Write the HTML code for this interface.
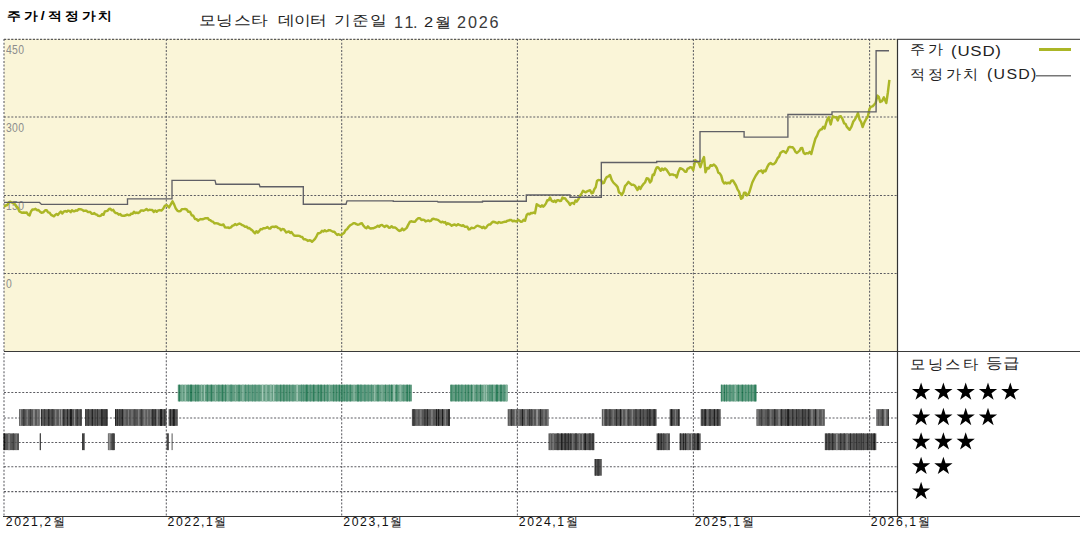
<!DOCTYPE html>
<html><head><meta charset="utf-8">
<style>
html,body{margin:0;padding:0;background:#fff;width:1080px;height:540px;overflow:hidden;position:relative;font-family:"Liberation Sans",sans-serif;color:#111}
.t{position:absolute;white-space:nowrap;line-height:1}
svg{position:absolute;left:0;top:0}
.g{stroke:#5c5c62;stroke-width:1.05;stroke-dasharray:2 1.65;fill:none}
.stars{position:absolute;left:910px;font-size:21px;line-height:22px;letter-spacing:1px;color:#000;white-space:nowrap}
</style></head><body>
<svg width="1080" height="540" viewBox="0 0 1080 540">
<rect x="4" y="39" width="893" height="312" fill="#faf5d8"/>
<line x1="166.3" y1="39" x2="166.3" y2="516" class="g"/>
<line x1="341.7" y1="39" x2="341.7" y2="516" class="g"/>
<line x1="517.4" y1="39" x2="517.4" y2="516" class="g"/>
<line x1="693.4" y1="39" x2="693.4" y2="516" class="g"/>
<line x1="869.6" y1="39" x2="869.6" y2="516" class="g"/>
<line x1="4" y1="117" x2="897" y2="117" class="g"/>
<line x1="4" y1="195.4" x2="897" y2="195.4" class="g"/>
<line x1="4" y1="273.5" x2="897" y2="273.5" class="g"/>
<line x1="4" y1="392.4" x2="897" y2="392.4" class="g"/>
<line x1="4" y1="417.9" x2="897" y2="417.9" class="g"/>
<line x1="4" y1="442.4" x2="897" y2="442.4" class="g"/>
<line x1="4" y1="466.8" x2="897" y2="466.8" class="g"/>
<line x1="4" y1="491.6" x2="897" y2="491.6" class="g"/>
<line x1="4" y1="39" x2="4" y2="516" class="g"/>
<g opacity="0.88">
<rect x="19.00" y="409.15" width="20.80" height="16.7" fill="#404040"/>
<rect x="19.68" y="409.15" width="1.50" height="16.7" fill="#858585"/>
<rect x="23.06" y="409.15" width="1.50" height="16.7" fill="#222"/>
<rect x="26.50" y="409.15" width="1.50" height="16.7" fill="#6a6a6a"/>
<rect x="29.88" y="409.15" width="1.00" height="16.7" fill="#222"/>
<rect x="33.20" y="409.15" width="1.50" height="16.7" fill="#858585"/>
<rect x="37.07" y="409.15" width="1.50" height="16.7" fill="#6a6a6a"/>
<rect x="40.80" y="409.15" width="41.20" height="16.7" fill="#404040"/>
<rect x="40.89" y="409.15" width="0.80" height="16.7" fill="#000"/>
<rect x="43.93" y="409.15" width="1.20" height="16.7" fill="#222"/>
<rect x="47.96" y="409.15" width="1.50" height="16.7" fill="#111"/>
<rect x="51.46" y="409.15" width="2.00" height="16.7" fill="#222"/>
<rect x="54.92" y="409.15" width="1.50" height="16.7" fill="#6a6a6a"/>
<rect x="58.92" y="409.15" width="1.00" height="16.7" fill="#858585"/>
<rect x="60.79" y="409.15" width="1.50" height="16.7" fill="#858585"/>
<rect x="63.35" y="409.15" width="1.00" height="16.7" fill="#000"/>
<rect x="67.19" y="409.15" width="0.80" height="16.7" fill="#000"/>
<rect x="69.91" y="409.15" width="2.00" height="16.7" fill="#000"/>
<rect x="74.07" y="409.15" width="1.00" height="16.7" fill="#858585"/>
<rect x="76.68" y="409.15" width="1.00" height="16.7" fill="#111"/>
<rect x="80.30" y="409.15" width="0.80" height="16.7" fill="#222"/>
<rect x="85.00" y="409.15" width="22.90" height="16.7" fill="#404040"/>
<rect x="85.09" y="409.15" width="1.20" height="16.7" fill="#222"/>
<rect x="87.54" y="409.15" width="1.50" height="16.7" fill="#222"/>
<rect x="91.69" y="409.15" width="1.20" height="16.7" fill="#000"/>
<rect x="94.64" y="409.15" width="1.00" height="16.7" fill="#222"/>
<rect x="97.17" y="409.15" width="0.80" height="16.7" fill="#111"/>
<rect x="101.16" y="409.15" width="1.50" height="16.7" fill="#000"/>
<rect x="103.56" y="409.15" width="1.00" height="16.7" fill="#111"/>
<rect x="105.38" y="409.15" width="1.50" height="16.7" fill="#111"/>
<rect x="115.00" y="409.15" width="51.60" height="16.7" fill="#404040"/>
<rect x="115.11" y="409.15" width="1.00" height="16.7" fill="#000"/>
<rect x="116.95" y="409.15" width="1.00" height="16.7" fill="#111"/>
<rect x="119.05" y="409.15" width="1.50" height="16.7" fill="#222"/>
<rect x="121.68" y="409.15" width="1.20" height="16.7" fill="#000"/>
<rect x="124.43" y="409.15" width="1.00" height="16.7" fill="#6a6a6a"/>
<rect x="127.97" y="409.15" width="1.00" height="16.7" fill="#6a6a6a"/>
<rect x="131.42" y="409.15" width="1.20" height="16.7" fill="#6a6a6a"/>
<rect x="134.43" y="409.15" width="0.80" height="16.7" fill="#222"/>
<rect x="138.34" y="409.15" width="1.00" height="16.7" fill="#858585"/>
<rect x="140.75" y="409.15" width="1.50" height="16.7" fill="#222"/>
<rect x="143.48" y="409.15" width="2.00" height="16.7" fill="#6a6a6a"/>
<rect x="146.82" y="409.15" width="1.50" height="16.7" fill="#6a6a6a"/>
<rect x="149.80" y="409.15" width="1.00" height="16.7" fill="#6a6a6a"/>
<rect x="152.24" y="409.15" width="1.20" height="16.7" fill="#000"/>
<rect x="154.66" y="409.15" width="1.00" height="16.7" fill="#000"/>
<rect x="156.69" y="409.15" width="1.00" height="16.7" fill="#858585"/>
<rect x="160.06" y="409.15" width="2.00" height="16.7" fill="#000"/>
<rect x="164.28" y="409.15" width="0.80" height="16.7" fill="#111"/>
<rect x="168.60" y="409.15" width="9.20" height="16.7" fill="#404040"/>
<rect x="170.04" y="409.15" width="0.80" height="16.7" fill="#000"/>
<rect x="172.80" y="409.15" width="2.00" height="16.7" fill="#000"/>
<rect x="3.50" y="433.40" width="15.50" height="16.7" fill="#404040"/>
<rect x="3.61" y="433.40" width="1.50" height="16.7" fill="#000"/>
<rect x="8.07" y="433.40" width="2.00" height="16.7" fill="#6a6a6a"/>
<rect x="12.78" y="433.40" width="1.00" height="16.7" fill="#222"/>
<rect x="15.71" y="433.40" width="0.80" height="16.7" fill="#858585"/>
<rect x="39.80" y="433.40" width="1.00" height="16.7" fill="#404040"/>
<rect x="39.85" y="433.40" width="0.95" height="16.7" fill="#222"/>
<rect x="82.00" y="433.40" width="3.00" height="16.7" fill="#404040"/>
<rect x="82.57" y="433.40" width="0.80" height="16.7" fill="#000"/>
<rect x="84.39" y="433.40" width="0.61" height="16.7" fill="#858585"/>
<rect x="107.90" y="433.40" width="7.10" height="16.7" fill="#404040"/>
<rect x="108.48" y="433.40" width="2.00" height="16.7" fill="#858585"/>
<rect x="112.34" y="433.40" width="1.50" height="16.7" fill="#222"/>
<rect x="166.60" y="433.40" width="2.00" height="16.7" fill="#404040"/>
<rect x="167.50" y="433.40" width="1.10" height="16.7" fill="#222"/>
<rect x="171.60" y="433.40" width="1.00" height="16.7" fill="#404040"/>
<rect x="177.80" y="384.70" width="234.10" height="16.7" fill="#4f9072"/>
<rect x="178.79" y="384.70" width="1.20" height="16.7" fill="#0f6c44"/>
<rect x="181.67" y="384.70" width="1.00" height="16.7" fill="#7aae96"/>
<rect x="184.72" y="384.70" width="1.00" height="16.7" fill="#99c2ae"/>
<rect x="187.71" y="384.70" width="1.00" height="16.7" fill="#2f8060"/>
<rect x="190.11" y="384.70" width="2.00" height="16.7" fill="#0f6c44"/>
<rect x="195.03" y="384.70" width="1.20" height="16.7" fill="#1f7650"/>
<rect x="197.53" y="384.70" width="1.00" height="16.7" fill="#0f6c44"/>
<rect x="201.04" y="384.70" width="1.00" height="16.7" fill="#7aae96"/>
<rect x="203.92" y="384.70" width="1.00" height="16.7" fill="#99c2ae"/>
<rect x="206.64" y="384.70" width="1.50" height="16.7" fill="#1f7650"/>
<rect x="210.66" y="384.70" width="1.50" height="16.7" fill="#0f6c44"/>
<rect x="214.95" y="384.70" width="1.00" height="16.7" fill="#7aae96"/>
<rect x="218.37" y="384.70" width="1.00" height="16.7" fill="#1f7650"/>
<rect x="221.73" y="384.70" width="1.50" height="16.7" fill="#0f6c44"/>
<rect x="225.00" y="384.70" width="1.00" height="16.7" fill="#1f7650"/>
<rect x="227.37" y="384.70" width="1.00" height="16.7" fill="#7aae96"/>
<rect x="230.25" y="384.70" width="2.00" height="16.7" fill="#2f8060"/>
<rect x="234.98" y="384.70" width="0.80" height="16.7" fill="#7aae96"/>
<rect x="238.56" y="384.70" width="1.00" height="16.7" fill="#0f6c44"/>
<rect x="242.17" y="384.70" width="1.50" height="16.7" fill="#7aae96"/>
<rect x="245.02" y="384.70" width="1.00" height="16.7" fill="#2f8060"/>
<rect x="248.02" y="384.70" width="1.00" height="16.7" fill="#2f8060"/>
<rect x="251.99" y="384.70" width="0.80" height="16.7" fill="#2f8060"/>
<rect x="254.52" y="384.70" width="1.20" height="16.7" fill="#2f8060"/>
<rect x="258.65" y="384.70" width="0.80" height="16.7" fill="#2f8060"/>
<rect x="261.82" y="384.70" width="1.50" height="16.7" fill="#99c2ae"/>
<rect x="265.23" y="384.70" width="2.00" height="16.7" fill="#7aae96"/>
<rect x="269.76" y="384.70" width="2.00" height="16.7" fill="#7aae96"/>
<rect x="273.08" y="384.70" width="1.20" height="16.7" fill="#99c2ae"/>
<rect x="276.37" y="384.70" width="1.00" height="16.7" fill="#2f8060"/>
<rect x="280.22" y="384.70" width="1.00" height="16.7" fill="#0f6c44"/>
<rect x="283.08" y="384.70" width="1.50" height="16.7" fill="#1f7650"/>
<rect x="286.55" y="384.70" width="0.80" height="16.7" fill="#0f6c44"/>
<rect x="289.18" y="384.70" width="0.80" height="16.7" fill="#1f7650"/>
<rect x="292.42" y="384.70" width="1.00" height="16.7" fill="#2f8060"/>
<rect x="296.39" y="384.70" width="1.50" height="16.7" fill="#99c2ae"/>
<rect x="300.96" y="384.70" width="1.20" height="16.7" fill="#2f8060"/>
<rect x="303.16" y="384.70" width="1.00" height="16.7" fill="#2f8060"/>
<rect x="305.66" y="384.70" width="2.00" height="16.7" fill="#0f6c44"/>
<rect x="309.71" y="384.70" width="1.50" height="16.7" fill="#2f8060"/>
<rect x="312.93" y="384.70" width="1.50" height="16.7" fill="#0f6c44"/>
<rect x="317.55" y="384.70" width="1.50" height="16.7" fill="#1f7650"/>
<rect x="320.33" y="384.70" width="1.50" height="16.7" fill="#0f6c44"/>
<rect x="324.09" y="384.70" width="0.80" height="16.7" fill="#0f6c44"/>
<rect x="326.93" y="384.70" width="1.20" height="16.7" fill="#2f8060"/>
<rect x="329.22" y="384.70" width="0.80" height="16.7" fill="#7aae96"/>
<rect x="333.05" y="384.70" width="1.20" height="16.7" fill="#1f7650"/>
<rect x="335.70" y="384.70" width="1.20" height="16.7" fill="#1f7650"/>
<rect x="338.74" y="384.70" width="1.20" height="16.7" fill="#0f6c44"/>
<rect x="341.20" y="384.70" width="1.50" height="16.7" fill="#1f7650"/>
<rect x="343.81" y="384.70" width="0.80" height="16.7" fill="#0f6c44"/>
<rect x="345.96" y="384.70" width="2.00" height="16.7" fill="#2f8060"/>
<rect x="349.61" y="384.70" width="1.50" height="16.7" fill="#1f7650"/>
<rect x="353.66" y="384.70" width="0.80" height="16.7" fill="#99c2ae"/>
<rect x="356.98" y="384.70" width="2.00" height="16.7" fill="#1f7650"/>
<rect x="359.84" y="384.70" width="2.00" height="16.7" fill="#2f8060"/>
<rect x="364.12" y="384.70" width="1.50" height="16.7" fill="#2f8060"/>
<rect x="367.70" y="384.70" width="1.00" height="16.7" fill="#2f8060"/>
<rect x="370.97" y="384.70" width="1.00" height="16.7" fill="#2f8060"/>
<rect x="374.27" y="384.70" width="1.00" height="16.7" fill="#99c2ae"/>
<rect x="377.52" y="384.70" width="1.00" height="16.7" fill="#0f6c44"/>
<rect x="381.45" y="384.70" width="1.00" height="16.7" fill="#7aae96"/>
<rect x="385.00" y="384.70" width="1.00" height="16.7" fill="#1f7650"/>
<rect x="388.79" y="384.70" width="1.20" height="16.7" fill="#2f8060"/>
<rect x="391.10" y="384.70" width="1.20" height="16.7" fill="#0f6c44"/>
<rect x="393.33" y="384.70" width="1.50" height="16.7" fill="#99c2ae"/>
<rect x="395.90" y="384.70" width="1.50" height="16.7" fill="#1f7650"/>
<rect x="399.41" y="384.70" width="2.00" height="16.7" fill="#7aae96"/>
<rect x="403.37" y="384.70" width="0.80" height="16.7" fill="#2f8060"/>
<rect x="406.44" y="384.70" width="1.50" height="16.7" fill="#0f6c44"/>
<rect x="409.18" y="384.70" width="1.00" height="16.7" fill="#0f6c44"/>
<rect x="450.00" y="384.70" width="57.70" height="16.7" fill="#4f9072"/>
<rect x="451.39" y="384.70" width="0.80" height="16.7" fill="#0f6c44"/>
<rect x="455.27" y="384.70" width="1.20" height="16.7" fill="#0f6c44"/>
<rect x="458.06" y="384.70" width="1.20" height="16.7" fill="#1f7650"/>
<rect x="461.09" y="384.70" width="1.50" height="16.7" fill="#2f8060"/>
<rect x="465.07" y="384.70" width="1.00" height="16.7" fill="#1f7650"/>
<rect x="467.74" y="384.70" width="1.00" height="16.7" fill="#0f6c44"/>
<rect x="470.99" y="384.70" width="0.80" height="16.7" fill="#0f6c44"/>
<rect x="473.36" y="384.70" width="0.80" height="16.7" fill="#99c2ae"/>
<rect x="476.33" y="384.70" width="1.00" height="16.7" fill="#1f7650"/>
<rect x="480.06" y="384.70" width="1.00" height="16.7" fill="#0f6c44"/>
<rect x="483.65" y="384.70" width="1.00" height="16.7" fill="#99c2ae"/>
<rect x="485.77" y="384.70" width="1.00" height="16.7" fill="#99c2ae"/>
<rect x="489.41" y="384.70" width="1.00" height="16.7" fill="#2f8060"/>
<rect x="491.65" y="384.70" width="1.00" height="16.7" fill="#0f6c44"/>
<rect x="493.48" y="384.70" width="1.00" height="16.7" fill="#7aae96"/>
<rect x="495.84" y="384.70" width="2.00" height="16.7" fill="#0f6c44"/>
<rect x="500.22" y="384.70" width="1.50" height="16.7" fill="#0f6c44"/>
<rect x="503.46" y="384.70" width="1.20" height="16.7" fill="#2f8060"/>
<rect x="505.74" y="384.70" width="1.20" height="16.7" fill="#7aae96"/>
<rect x="720.80" y="384.70" width="35.60" height="16.7" fill="#4f9072"/>
<rect x="720.96" y="384.70" width="1.00" height="16.7" fill="#1f7650"/>
<rect x="723.97" y="384.70" width="1.00" height="16.7" fill="#0f6c44"/>
<rect x="726.01" y="384.70" width="1.00" height="16.7" fill="#1f7650"/>
<rect x="729.13" y="384.70" width="1.50" height="16.7" fill="#2f8060"/>
<rect x="732.79" y="384.70" width="0.80" height="16.7" fill="#2f8060"/>
<rect x="734.58" y="384.70" width="1.50" height="16.7" fill="#7aae96"/>
<rect x="737.80" y="384.70" width="1.00" height="16.7" fill="#0f6c44"/>
<rect x="741.66" y="384.70" width="1.50" height="16.7" fill="#0f6c44"/>
<rect x="744.99" y="384.70" width="1.20" height="16.7" fill="#2f8060"/>
<rect x="747.94" y="384.70" width="1.00" height="16.7" fill="#1f7650"/>
<rect x="750.90" y="384.70" width="1.00" height="16.7" fill="#1f7650"/>
<rect x="754.30" y="384.70" width="2.00" height="16.7" fill="#0f6c44"/>
<rect x="411.90" y="409.15" width="38.10" height="16.7" fill="#404040"/>
<rect x="412.78" y="409.15" width="2.00" height="16.7" fill="#222"/>
<rect x="416.51" y="409.15" width="1.00" height="16.7" fill="#6a6a6a"/>
<rect x="419.71" y="409.15" width="2.00" height="16.7" fill="#6a6a6a"/>
<rect x="424.43" y="409.15" width="1.00" height="16.7" fill="#111"/>
<rect x="426.83" y="409.15" width="1.00" height="16.7" fill="#000"/>
<rect x="430.88" y="409.15" width="2.00" height="16.7" fill="#6a6a6a"/>
<rect x="436.03" y="409.15" width="1.00" height="16.7" fill="#000"/>
<rect x="437.95" y="409.15" width="1.20" height="16.7" fill="#000"/>
<rect x="442.01" y="409.15" width="1.00" height="16.7" fill="#000"/>
<rect x="444.69" y="409.15" width="1.00" height="16.7" fill="#858585"/>
<rect x="447.93" y="409.15" width="2.00" height="16.7" fill="#111"/>
<rect x="507.70" y="409.15" width="40.80" height="16.7" fill="#404040"/>
<rect x="508.82" y="409.15" width="1.00" height="16.7" fill="#6a6a6a"/>
<rect x="511.19" y="409.15" width="0.80" height="16.7" fill="#111"/>
<rect x="514.67" y="409.15" width="1.50" height="16.7" fill="#858585"/>
<rect x="517.62" y="409.15" width="2.00" height="16.7" fill="#6a6a6a"/>
<rect x="521.94" y="409.15" width="1.00" height="16.7" fill="#000"/>
<rect x="524.95" y="409.15" width="2.00" height="16.7" fill="#6a6a6a"/>
<rect x="529.25" y="409.15" width="0.80" height="16.7" fill="#111"/>
<rect x="530.92" y="409.15" width="0.80" height="16.7" fill="#222"/>
<rect x="533.19" y="409.15" width="0.80" height="16.7" fill="#6a6a6a"/>
<rect x="536.11" y="409.15" width="2.00" height="16.7" fill="#858585"/>
<rect x="540.06" y="409.15" width="1.00" height="16.7" fill="#111"/>
<rect x="543.64" y="409.15" width="0.80" height="16.7" fill="#858585"/>
<rect x="547.19" y="409.15" width="1.31" height="16.7" fill="#6a6a6a"/>
<rect x="601.80" y="409.15" width="54.80" height="16.7" fill="#404040"/>
<rect x="602.92" y="409.15" width="1.20" height="16.7" fill="#858585"/>
<rect x="605.29" y="409.15" width="1.50" height="16.7" fill="#222"/>
<rect x="609.41" y="409.15" width="1.00" height="16.7" fill="#111"/>
<rect x="612.60" y="409.15" width="1.20" height="16.7" fill="#6a6a6a"/>
<rect x="615.91" y="409.15" width="1.20" height="16.7" fill="#111"/>
<rect x="619.87" y="409.15" width="1.20" height="16.7" fill="#000"/>
<rect x="622.05" y="409.15" width="1.00" height="16.7" fill="#6a6a6a"/>
<rect x="625.52" y="409.15" width="1.20" height="16.7" fill="#858585"/>
<rect x="628.20" y="409.15" width="1.00" height="16.7" fill="#222"/>
<rect x="631.74" y="409.15" width="1.00" height="16.7" fill="#858585"/>
<rect x="635.24" y="409.15" width="1.50" height="16.7" fill="#222"/>
<rect x="639.73" y="409.15" width="1.20" height="16.7" fill="#111"/>
<rect x="642.83" y="409.15" width="1.00" height="16.7" fill="#222"/>
<rect x="646.78" y="409.15" width="1.00" height="16.7" fill="#111"/>
<rect x="648.64" y="409.15" width="2.00" height="16.7" fill="#111"/>
<rect x="653.35" y="409.15" width="2.00" height="16.7" fill="#111"/>
<rect x="669.60" y="409.15" width="10.00" height="16.7" fill="#404040"/>
<rect x="670.85" y="409.15" width="1.50" height="16.7" fill="#000"/>
<rect x="674.98" y="409.15" width="1.00" height="16.7" fill="#6a6a6a"/>
<rect x="678.01" y="409.15" width="1.50" height="16.7" fill="#111"/>
<rect x="700.70" y="409.15" width="20.10" height="16.7" fill="#404040"/>
<rect x="701.68" y="409.15" width="1.20" height="16.7" fill="#222"/>
<rect x="704.41" y="409.15" width="1.50" height="16.7" fill="#000"/>
<rect x="707.37" y="409.15" width="0.80" height="16.7" fill="#6a6a6a"/>
<rect x="709.03" y="409.15" width="2.00" height="16.7" fill="#222"/>
<rect x="713.79" y="409.15" width="1.20" height="16.7" fill="#000"/>
<rect x="716.96" y="409.15" width="1.50" height="16.7" fill="#111"/>
<rect x="720.21" y="409.15" width="0.59" height="16.7" fill="#858585"/>
<rect x="756.40" y="409.15" width="68.40" height="16.7" fill="#404040"/>
<rect x="757.14" y="409.15" width="1.50" height="16.7" fill="#6a6a6a"/>
<rect x="761.14" y="409.15" width="0.80" height="16.7" fill="#222"/>
<rect x="763.58" y="409.15" width="0.80" height="16.7" fill="#6a6a6a"/>
<rect x="767.31" y="409.15" width="1.50" height="16.7" fill="#222"/>
<rect x="770.48" y="409.15" width="0.80" height="16.7" fill="#858585"/>
<rect x="774.30" y="409.15" width="1.00" height="16.7" fill="#000"/>
<rect x="778.47" y="409.15" width="1.20" height="16.7" fill="#858585"/>
<rect x="780.97" y="409.15" width="1.20" height="16.7" fill="#111"/>
<rect x="785.29" y="409.15" width="0.80" height="16.7" fill="#222"/>
<rect x="787.17" y="409.15" width="2.00" height="16.7" fill="#000"/>
<rect x="792.16" y="409.15" width="1.20" height="16.7" fill="#111"/>
<rect x="796.34" y="409.15" width="0.80" height="16.7" fill="#000"/>
<rect x="798.38" y="409.15" width="1.00" height="16.7" fill="#222"/>
<rect x="801.90" y="409.15" width="1.50" height="16.7" fill="#111"/>
<rect x="804.65" y="409.15" width="1.00" height="16.7" fill="#111"/>
<rect x="807.95" y="409.15" width="1.50" height="16.7" fill="#111"/>
<rect x="811.42" y="409.15" width="1.20" height="16.7" fill="#858585"/>
<rect x="815.00" y="409.15" width="0.80" height="16.7" fill="#000"/>
<rect x="817.56" y="409.15" width="1.00" height="16.7" fill="#858585"/>
<rect x="821.70" y="409.15" width="1.50" height="16.7" fill="#6a6a6a"/>
<rect x="876.30" y="409.15" width="12.60" height="16.7" fill="#404040"/>
<rect x="876.66" y="409.15" width="0.80" height="16.7" fill="#858585"/>
<rect x="879.34" y="409.15" width="1.00" height="16.7" fill="#6a6a6a"/>
<rect x="882.13" y="409.15" width="1.00" height="16.7" fill="#222"/>
<rect x="884.25" y="409.15" width="2.00" height="16.7" fill="#858585"/>
<rect x="888.29" y="409.15" width="0.61" height="16.7" fill="#000"/>
<rect x="548.50" y="433.40" width="45.90" height="16.7" fill="#404040"/>
<rect x="549.73" y="433.40" width="1.00" height="16.7" fill="#6a6a6a"/>
<rect x="552.38" y="433.40" width="1.50" height="16.7" fill="#6a6a6a"/>
<rect x="556.81" y="433.40" width="2.00" height="16.7" fill="#222"/>
<rect x="561.02" y="433.40" width="1.50" height="16.7" fill="#000"/>
<rect x="564.32" y="433.40" width="2.00" height="16.7" fill="#111"/>
<rect x="567.62" y="433.40" width="1.50" height="16.7" fill="#111"/>
<rect x="570.30" y="433.40" width="1.00" height="16.7" fill="#111"/>
<rect x="572.28" y="433.40" width="1.00" height="16.7" fill="#6a6a6a"/>
<rect x="574.94" y="433.40" width="2.00" height="16.7" fill="#222"/>
<rect x="578.69" y="433.40" width="1.20" height="16.7" fill="#6a6a6a"/>
<rect x="582.26" y="433.40" width="0.80" height="16.7" fill="#858585"/>
<rect x="584.43" y="433.40" width="1.50" height="16.7" fill="#000"/>
<rect x="588.78" y="433.40" width="2.00" height="16.7" fill="#222"/>
<rect x="591.95" y="433.40" width="2.00" height="16.7" fill="#222"/>
<rect x="656.60" y="433.40" width="13.00" height="16.7" fill="#404040"/>
<rect x="658.03" y="433.40" width="1.20" height="16.7" fill="#000"/>
<rect x="660.65" y="433.40" width="1.00" height="16.7" fill="#000"/>
<rect x="663.24" y="433.40" width="1.00" height="16.7" fill="#222"/>
<rect x="666.57" y="433.40" width="1.20" height="16.7" fill="#6a6a6a"/>
<rect x="668.82" y="433.40" width="0.78" height="16.7" fill="#222"/>
<rect x="679.60" y="433.40" width="21.10" height="16.7" fill="#404040"/>
<rect x="679.87" y="433.40" width="1.00" height="16.7" fill="#111"/>
<rect x="683.09" y="433.40" width="0.80" height="16.7" fill="#000"/>
<rect x="685.07" y="433.40" width="0.80" height="16.7" fill="#000"/>
<rect x="687.49" y="433.40" width="1.20" height="16.7" fill="#6a6a6a"/>
<rect x="691.04" y="433.40" width="1.00" height="16.7" fill="#858585"/>
<rect x="694.00" y="433.40" width="1.20" height="16.7" fill="#222"/>
<rect x="696.96" y="433.40" width="2.00" height="16.7" fill="#000"/>
<rect x="824.80" y="433.40" width="51.50" height="16.7" fill="#404040"/>
<rect x="825.71" y="433.40" width="0.80" height="16.7" fill="#000"/>
<rect x="828.13" y="433.40" width="2.00" height="16.7" fill="#222"/>
<rect x="831.84" y="433.40" width="1.50" height="16.7" fill="#111"/>
<rect x="836.12" y="433.40" width="1.50" height="16.7" fill="#858585"/>
<rect x="840.26" y="433.40" width="1.00" height="16.7" fill="#111"/>
<rect x="843.53" y="433.40" width="1.50" height="16.7" fill="#222"/>
<rect x="846.31" y="433.40" width="1.50" height="16.7" fill="#6a6a6a"/>
<rect x="849.97" y="433.40" width="0.80" height="16.7" fill="#000"/>
<rect x="853.43" y="433.40" width="1.00" height="16.7" fill="#222"/>
<rect x="856.23" y="433.40" width="1.00" height="16.7" fill="#111"/>
<rect x="858.67" y="433.40" width="0.80" height="16.7" fill="#222"/>
<rect x="860.60" y="433.40" width="1.50" height="16.7" fill="#222"/>
<rect x="863.05" y="433.40" width="1.00" height="16.7" fill="#222"/>
<rect x="867.23" y="433.40" width="1.00" height="16.7" fill="#000"/>
<rect x="871.27" y="433.40" width="0.80" height="16.7" fill="#111"/>
<rect x="873.45" y="433.40" width="1.50" height="16.7" fill="#000"/>
<rect x="594.40" y="459.00" width="7.40" height="16.7" fill="#404040"/>
<rect x="595.22" y="459.00" width="0.80" height="16.7" fill="#111"/>
<rect x="597.25" y="459.00" width="2.00" height="16.7" fill="#222"/>
</g>
</svg>
<div class="t" style="left:7.05px;top:9.8px;font-size:12.37px;letter-spacing:2.68px;font-weight:bold;color:#000;transform:scaleX(1.15);transform-origin:0 0;">주가/적정가치</div>
<div class="t" style="left:199.35px;top:13.4px;font-size:14.04px;letter-spacing:0.47px;font-weight:normal;color:#222;transform:scaleX(1.2);transform-origin:0 0;">모닝스타</div>
<div class="t" style="left:277.55px;top:13.4px;font-size:14.04px;letter-spacing:-0.81px;font-weight:normal;color:#222;transform:scaleX(1.2);transform-origin:0 0;">데이터</div>
<div class="t" style="left:334.05px;top:13.4px;font-size:14.04px;letter-spacing:0.94px;font-weight:normal;color:#222;transform:scaleX(1.2);transform-origin:0 0;">기준일</div>
<div class="t" style="left:423.65px;top:14.65px;font-size:14.29px;letter-spacing:1.96px;font-weight:normal;color:#222;transform:scaleX(1.15);transform-origin:0 0;">2월</div>
<div class="t" style="left:457.05px;top:14.05px;font-size:16.21px;letter-spacing:1.83px;font-weight:normal;color:#3a3a3a;">2026</div>
<div class="t" style="left:394.0px;top:14.05px;font-size:16.21px;letter-spacing:0px;font-weight:normal;color:#3a3a3a;">1</div>
<div class="t" style="left:404.6px;top:14.05px;font-size:16.21px;letter-spacing:0px;font-weight:normal;color:#3a3a3a;">1</div>
<div class="t" style="left:413.0px;top:14.05px;font-size:16.21px;letter-spacing:0px;font-weight:normal;color:#3a3a3a;">.</div>
<div class="t" style="left:910.0px;top:43.05px;font-size:13.67px;letter-spacing:2.82px;font-weight:normal;color:#222;transform:scaleX(1.08);transform-origin:0 0;">주가</div>
<div class="t" style="left:950.9px;top:43.55px;font-size:14.69px;letter-spacing:0.67px;font-weight:normal;color:#222;transform:scaleX(1.15);transform-origin:0 0;">(USD)</div>
<div class="t" style="left:909.75px;top:67.75px;font-size:13.67px;letter-spacing:2.47px;font-weight:normal;color:#222;transform:scaleX(1.08);transform-origin:0 0;">적정가치</div>
<div class="t" style="left:986.5px;top:67.5px;font-size:13.85px;letter-spacing:1.13px;font-weight:normal;color:#222;transform:scaleX(1.15);transform-origin:0 0;">(USD)</div>
<div class="t" style="left:909.75px;top:356.5px;font-size:14.39px;letter-spacing:2.08px;font-weight:normal;color:#222;transform:scaleX(1.1);transform-origin:0 0;">모닝스타</div>
<div class="t" style="left:986.25px;top:356.25px;font-size:14.69px;letter-spacing:0.82px;font-weight:normal;color:#222;transform:scaleX(1.1);transform-origin:0 0;">등급</div>
<div class="t" style="left:5.9px;top:43.0px;font-size:13px;letter-spacing:0.4px;font-weight:normal;color:#8c8c8c;transform:scaleX(0.8);transform-origin:0 0">450</div>
<div class="t" style="left:5.9px;top:120.6px;font-size:13px;letter-spacing:0.4px;font-weight:normal;color:#8c8c8c;transform:scaleX(0.8);transform-origin:0 0">300</div>
<div class="t" style="left:5.9px;top:199.1px;font-size:13px;letter-spacing:0.4px;font-weight:normal;color:#8c8c8c;transform:scaleX(0.8);transform-origin:0 0">150</div>
<div class="t" style="left:5.9px;top:277.2px;font-size:13px;letter-spacing:0.4px;font-weight:normal;color:#8c8c8c;transform:scaleX(0.8);transform-origin:0 0">0</div>
<div class="t" style="left:5.8px;top:516.25px;font-size:12.23px;letter-spacing:1.58px;font-weight:normal;color:#111;">2021,2월</div>
<div class="t" style="left:167.6px;top:516.25px;font-size:12.23px;letter-spacing:1.58px;font-weight:normal;color:#111;">2022,1월</div>
<div class="t" style="left:343.3px;top:516.25px;font-size:12.23px;letter-spacing:1.58px;font-weight:normal;color:#111;">2023,1월</div>
<div class="t" style="left:518.8px;top:516.25px;font-size:12.23px;letter-spacing:1.58px;font-weight:normal;color:#111;">2024,1월</div>
<div class="t" style="left:694.7px;top:516.25px;font-size:12.23px;letter-spacing:1.58px;font-weight:normal;color:#111;">2025,1월</div>
<div class="t" style="left:870.8px;top:516.25px;font-size:12.23px;letter-spacing:1.58px;font-weight:normal;color:#111;">2026,1월</div>
<svg width="1080" height="540" viewBox="0 0 1080 540">
<line x1="4" y1="39.4" x2="897" y2="39.4" stroke="#5a5a5a" stroke-width="1.25" stroke-dasharray="2.2 1.4"/>
<line x1="897" y1="39.3" x2="1080" y2="39.3" stroke="#555" stroke-width="1.3"/>
<line x1="4" y1="351.5" x2="1080" y2="351.5" stroke="#3a3a3a" stroke-width="1.1"/>
<line x1="3" y1="516.5" x2="1080" y2="516.5" stroke="#333" stroke-width="1.2"/>
<line x1="897.5" y1="39" x2="897.5" y2="516.5" stroke="#333" stroke-width="1.2"/>
<polygon points="921.10,382.40 923.26,389.03 930.23,389.03 924.59,393.13 926.74,399.77 921.10,395.67 915.46,399.77 917.61,393.13 911.97,389.03 918.94,389.03" fill="#000"/>
<polygon points="943.40,382.40 945.56,389.03 952.53,389.03 946.89,393.13 949.04,399.77 943.40,395.67 937.76,399.77 939.91,393.13 934.27,389.03 941.24,389.03" fill="#000"/>
<polygon points="965.70,382.40 967.86,389.03 974.83,389.03 969.19,393.13 971.34,399.77 965.70,395.67 960.06,399.77 962.21,393.13 956.57,389.03 963.54,389.03" fill="#000"/>
<polygon points="988.00,382.40 990.16,389.03 997.13,389.03 991.49,393.13 993.64,399.77 988.00,395.67 982.36,399.77 984.51,393.13 978.87,389.03 985.84,389.03" fill="#000"/>
<polygon points="1010.30,382.40 1012.46,389.03 1019.43,389.03 1013.79,393.13 1015.94,399.77 1010.30,395.67 1004.66,399.77 1006.81,393.13 1001.17,389.03 1008.14,389.03" fill="#000"/>
<polygon points="921.10,407.80 923.26,414.43 930.23,414.43 924.59,418.53 926.74,425.17 921.10,421.07 915.46,425.17 917.61,418.53 911.97,414.43 918.94,414.43" fill="#000"/>
<polygon points="943.40,407.80 945.56,414.43 952.53,414.43 946.89,418.53 949.04,425.17 943.40,421.07 937.76,425.17 939.91,418.53 934.27,414.43 941.24,414.43" fill="#000"/>
<polygon points="965.70,407.80 967.86,414.43 974.83,414.43 969.19,418.53 971.34,425.17 965.70,421.07 960.06,425.17 962.21,418.53 956.57,414.43 963.54,414.43" fill="#000"/>
<polygon points="988.00,407.80 990.16,414.43 997.13,414.43 991.49,418.53 993.64,425.17 988.00,421.07 982.36,425.17 984.51,418.53 978.87,414.43 985.84,414.43" fill="#000"/>
<polygon points="921.10,432.20 923.26,438.83 930.23,438.83 924.59,442.93 926.74,449.57 921.10,445.47 915.46,449.57 917.61,442.93 911.97,438.83 918.94,438.83" fill="#000"/>
<polygon points="943.40,432.20 945.56,438.83 952.53,438.83 946.89,442.93 949.04,449.57 943.40,445.47 937.76,449.57 939.91,442.93 934.27,438.83 941.24,438.83" fill="#000"/>
<polygon points="965.70,432.20 967.86,438.83 974.83,438.83 969.19,442.93 971.34,449.57 965.70,445.47 960.06,449.57 962.21,442.93 956.57,438.83 963.54,438.83" fill="#000"/>
<polygon points="921.10,456.70 923.26,463.33 930.23,463.33 924.59,467.43 926.74,474.07 921.10,469.97 915.46,474.07 917.61,467.43 911.97,463.33 918.94,463.33" fill="#000"/>
<polygon points="943.40,456.70 945.56,463.33 952.53,463.33 946.89,467.43 949.04,474.07 943.40,469.97 937.76,474.07 939.91,467.43 934.27,463.33 941.24,463.33" fill="#000"/>
<polygon points="921.10,481.80 923.26,488.43 930.23,488.43 924.59,492.53 926.74,499.17 921.10,495.07 915.46,499.17 917.61,492.53 911.97,488.43 918.94,488.43" fill="#000"/>
<polyline points="4.0,206.9 5.7,205.5 7.4,205.0 8.9,202.4 10.4,201.7 12.2,202.8 14.1,203.1 16.3,206.5 17.8,207.8 19.3,211.3 20.8,212.1 22.2,212.8 23.7,212.5 25.2,212.8 26.7,212.5 28.1,214.6 29.6,215.4 31.1,211.2 32.6,209.4 34.1,209.5 35.5,208.8 37.0,210.2 38.5,210.0 40.0,211.7 41.5,212.8 43.4,212.3 45.2,210.2 46.7,210.3 48.1,212.4 49.6,212.8 51.1,214.9 52.6,215.7 53.9,216.3 55.3,214.9 56.6,213.9 58.0,214.9 59.3,213.1 60.8,211.6 62.3,213.5 63.7,211.7 65.2,211.1 66.7,211.7 68.0,210.6 69.3,210.9 70.7,212.1 72.0,210.3 73.3,211.2 74.6,211.2 75.9,210.4 77.2,210.7 78.5,209.3 79.9,209.1 81.2,209.4 82.5,210.0 83.8,210.9 85.1,210.6 86.4,210.8 87.7,211.9 89.0,211.9 90.3,212.0 91.7,213.7 93.0,213.8 94.3,213.1 95.6,214.3 96.9,214.6 98.2,215.9 99.5,216.0 100.8,215.8 102.2,214.1 103.5,214.8 104.9,211.4 106.3,211.1 107.6,210.8 109.0,209.0 110.4,208.8 111.8,210.3 113.2,209.8 114.6,212.2 116.0,213.1 117.4,213.3 118.8,214.7 120.2,214.0 121.6,215.6 123.0,215.8 124.4,215.7 125.8,215.3 127.1,214.6 128.5,215.2 129.9,215.1 131.2,213.6 132.6,213.7 134.0,211.8 135.4,213.1 136.8,212.6 138.1,213.1 139.5,212.3 140.9,210.5 142.2,210.4 143.6,210.8 145.0,210.0 146.5,209.0 147.9,210.3 149.4,209.8 150.8,209.9 152.3,209.9 153.8,212.0 155.2,210.5 156.7,211.7 158.3,210.4 159.8,210.1 161.4,210.6 163.0,209.0 164.8,205.9 166.7,205.0 169.0,207.5 170.8,204.3 172.5,201.3 174.2,204.6 175.8,208.6 177.5,210.8 179.0,211.3 180.5,211.0 182.0,209.1 183.5,209.1 185.0,209.0 186.7,209.5 188.3,211.8 190.0,211.7 191.7,215.3 193.3,215.7 195.0,219.0 196.5,219.1 198.0,220.8 199.4,219.6 200.8,219.1 202.2,219.3 203.6,219.0 205.0,218.3 206.3,218.2 207.7,218.1 209.0,219.8 210.3,220.2 211.7,221.3 213.0,221.7 214.5,223.4 216.0,223.3 217.5,223.4 219.0,224.2 220.5,224.9 222.0,225.0 223.5,224.5 225.0,227.3 226.5,227.6 228.0,227.5 229.4,228.0 230.9,227.3 232.3,225.8 233.7,225.4 235.1,224.1 236.6,225.0 238.0,224.2 239.4,223.6 240.9,224.2 242.3,225.2 243.7,225.7 245.1,226.7 246.6,226.6 248.0,228.3 249.4,228.0 250.8,229.4 252.2,230.3 253.6,231.9 255.0,233.3 256.4,231.2 257.8,232.6 259.2,231.1 260.6,229.1 262.0,229.2 263.4,228.2 264.8,228.2 266.1,227.9 267.5,227.0 268.9,228.5 270.2,228.6 271.6,226.9 273.0,226.7 274.3,227.1 275.7,226.5 277.0,227.0 278.3,228.1 279.7,228.4 281.0,230.3 282.3,229.0 283.7,229.1 285.0,230.8 286.3,232.5 287.6,231.9 288.9,231.4 290.2,232.9 291.5,232.1 292.8,233.9 294.1,235.5 295.4,235.7 296.7,235.8 298.0,235.8 299.4,235.9 300.8,236.8 302.2,237.0 303.6,239.2 305.0,239.2 306.4,239.8 307.8,240.9 309.2,240.3 310.6,240.5 312.0,241.7 313.5,240.4 315.0,238.8 316.5,236.3 318.0,233.3 319.3,233.3 320.7,232.5 322.0,230.8 323.4,231.5 324.8,230.3 326.1,231.2 327.5,230.9 328.9,230.1 330.2,230.2 331.6,231.0 333.0,231.7 334.4,231.7 335.8,233.5 337.2,234.9 338.6,234.2 340.0,235.0 341.4,235.0 342.8,233.9 344.2,232.7 345.6,230.0 347.0,229.2 348.7,226.8 350.3,225.2 352.0,224.2 353.4,223.3 354.9,223.2 356.3,224.1 357.7,224.7 359.1,224.4 360.6,223.4 362.0,223.3 363.5,225.8 365.0,227.5 366.4,228.3 367.9,226.4 369.3,227.9 370.7,228.6 372.1,228.2 373.6,228.2 375.0,227.5 376.4,226.9 377.8,225.7 379.2,226.8 380.6,225.1 382.0,225.0 383.4,226.1 384.8,226.9 386.1,225.7 387.5,226.0 388.9,227.7 390.2,227.5 391.6,226.3 393.0,227.5 394.7,227.4 396.3,228.3 398.0,230.0 399.4,230.9 400.8,230.5 402.2,228.6 403.6,230.2 405.0,229.2 406.7,227.9 408.3,224.6 410.0,221.7 411.7,221.3 413.3,221.8 415.0,221.7 416.7,219.6 418.3,218.2 420.0,218.3 421.4,220.0 422.8,219.7 424.2,219.9 425.6,221.4 427.0,220.8 428.3,220.4 429.7,221.2 431.0,220.8 432.3,219.0 433.7,218.8 435.0,219.2 436.7,219.5 438.3,220.2 440.0,221.7 441.3,222.3 442.6,221.7 443.9,222.5 445.2,222.1 446.5,224.4 447.8,223.3 449.1,223.9 450.4,224.6 451.7,225.7 453.0,225.0 454.7,224.5 456.3,225.6 458.0,224.2 459.3,224.8 460.7,225.4 462.0,225.9 463.3,225.2 464.7,226.8 466.0,226.7 467.3,226.8 468.7,229.4 470.0,229.2 471.3,227.8 472.7,228.0 474.0,228.1 475.3,227.1 476.7,225.9 478.0,225.8 479.4,226.3 480.8,226.9 482.2,228.0 483.6,226.8 485.0,228.3 486.3,227.4 487.7,225.4 489.0,224.4 490.3,224.6 491.7,222.8 493.0,221.7 494.5,222.0 496.0,222.6 497.5,223.2 499.0,222.1 500.5,222.7 502.0,222.5 503.3,222.1 504.7,221.7 506.0,221.8 507.3,220.7 508.7,220.5 510.0,220.0 511.4,220.0 512.7,221.3 514.1,220.7 515.5,221.3 516.8,221.5 518.2,219.8 519.5,220.7 520.9,221.7 522.3,221.5 523.6,219.8 525.0,220.8 526.7,215.0 528.1,213.7 529.5,214.3 530.9,213.0 532.2,213.2 533.6,212.5 535.0,213.3 536.7,204.2 538.0,205.1 539.3,205.9 540.7,206.7 542.0,205.3 543.3,206.7 544.6,205.4 546.0,203.4 547.3,200.3 548.7,200.3 550.0,197.5 551.6,200.8 553.3,201.7 554.6,200.6 555.9,202.1 557.2,200.3 558.5,200.2 559.8,201.1 561.1,200.8 562.4,197.6 563.7,198.4 565.0,198.3 566.7,200.6 568.3,202.1 570.0,205.0 571.3,203.1 572.7,202.9 574.0,203.9 575.4,200.4 576.7,201.7 578.4,199.1 580.0,195.9 581.7,193.3 583.0,190.8 584.3,191.6 585.7,192.3 587.0,191.4 588.3,190.8 590.0,190.2 591.7,193.3 593.0,192.7 594.3,189.2 595.7,187.3 597.0,181.0 598.3,180.0 599.7,180.1 601.1,180.3 602.5,183.3 604.0,182.8 605.5,179.0 607.0,176.8 608.5,176.3 610.0,175.0 611.7,179.8 613.3,182.5 615.0,184.2 616.3,185.4 617.7,187.1 619.0,192.4 620.4,193.1 621.7,195.0 623.4,192.2 625.0,186.1 626.7,184.2 628.4,181.9 630.0,183.3 631.7,184.9 633.3,184.7 635.0,185.8 637.5,190.0 639.0,186.8 640.4,188.9 641.8,186.2 643.3,184.2 645.0,182.5 646.7,178.3 648.4,178.7 650.0,182.5 651.3,181.0 652.7,174.7 654.0,175.0 655.4,170.3 656.7,167.5 658.0,167.3 659.3,168.7 660.7,170.8 662.0,168.5 663.3,170.0 665.0,168.5 666.7,170.0 668.4,172.6 670.0,175.0 671.3,174.4 672.7,174.4 674.0,175.1 675.4,175.1 676.7,177.5 678.4,171.7 680.0,168.3 681.7,168.7 683.3,169.8 685.0,171.7 686.3,171.7 687.6,168.6 688.9,168.3 690.2,167.2 691.7,167.4 693.2,170.2 695.3,160.1 697.0,161.8 698.7,162.8 700.4,167.2 702.2,161.1 704.0,157.0 705.5,172.3 707.2,167.9 708.8,168.5 710.5,165.2 712.2,165.7 713.9,164.6 715.6,166.2 717.0,168.5 718.3,172.7 719.7,173.3 721.2,175.7 722.8,181.4 724.1,183.4 725.5,182.5 726.8,183.5 728.3,182.7 729.8,183.3 731.4,180.7 732.9,180.4 734.5,183.0 736.0,185.5 737.5,189.3 739.0,191.6 741.1,198.8 742.6,197.7 744.1,192.6 745.5,192.6 746.8,195.4 748.2,194.7 749.6,191.5 750.9,187.1 752.3,182.5 754.0,179.0 755.7,175.7 757.4,173.3 758.8,171.1 760.1,171.1 761.5,170.5 762.8,173.0 764.1,170.6 765.5,171.3 767.2,167.2 768.9,164.1 770.6,163.1 772.3,164.2 774.0,164.0 775.7,162.1 777.7,158.0 779.1,156.7 780.4,153.0 781.8,151.9 783.2,151.2 784.5,151.7 785.9,152.9 787.3,150.7 788.6,147.4 790.0,146.8 791.3,147.3 792.7,147.2 794.0,148.9 795.4,151.8 796.7,152.9 798.1,151.9 799.5,150.8 800.8,148.2 802.2,147.9 803.7,152.9 805.2,154.0 806.7,153.2 808.2,153.4 809.8,151.9 811.3,154.0 812.7,148.4 814.0,143.7 815.4,138.7 817.1,135.6 818.8,131.3 820.5,129.5 821.9,129.2 823.2,126.8 824.6,128.5 825.9,123.8 827.3,119.3 828.6,117.3 830.7,124.4 832.7,116.3 834.4,117.2 836.1,117.1 837.8,120.4 839.3,116.4 840.9,116.3 842.5,119.0 844.1,123.3 845.5,123.8 846.9,126.9 848.2,128.3 849.6,129.8 851.5,126.7 853.3,121.5 854.9,119.4 856.4,116.8 858.0,113.1 859.5,119.3 861.1,121.9 862.6,127.0 864.5,122.1 866.3,118.7 867.8,116.7 869.4,109.2 870.9,106.7 872.5,106.4 874.0,104.8 875.6,103.0 877.4,95.6 878.8,96.9 880.2,102.0 882.0,101.1 883.9,97.4 886.3,103.0 887.8,93.0 889.4,79.8" fill="none" stroke="#abb626" stroke-width="2.45" stroke-linejoin="round"/>
<polyline points="4.0,202.4 39.5,202.4 41.5,204.4 127.5,204.4 127.5,198.8 172.0,198.8 172.0,180.3 215.0,180.3 216.0,184.2 259.2,184.2 260.0,186.7 303.3,186.7 303.3,204.2 346.0,204.2 347.0,200.8 393.3,200.8 393.3,201.3 437.5,201.3 438.0,202.0 482.5,202.0 482.5,201.2 526.3,201.2 526.3,195.0 570.0,195.0 570.0,197.2 601.3,197.2 601.3,162.5 656.7,162.5 656.7,161.5 700.0,161.5 700.0,131.6 744.1,131.6 744.1,137.1 787.9,137.1 787.9,114.5 832.0,114.5 832.0,111.9 876.1,111.9 876.1,50.7 889.0,50.7" fill="none" stroke="#606066" stroke-width="1.35" stroke-linejoin="miter"/>
<line x1="1039" y1="49.5" x2="1071" y2="49.5" stroke="#abb626" stroke-width="3"/>
<line x1="1036" y1="75.8" x2="1071" y2="75.8" stroke="#777" stroke-width="1.5"/>
</svg>
</body></html>
